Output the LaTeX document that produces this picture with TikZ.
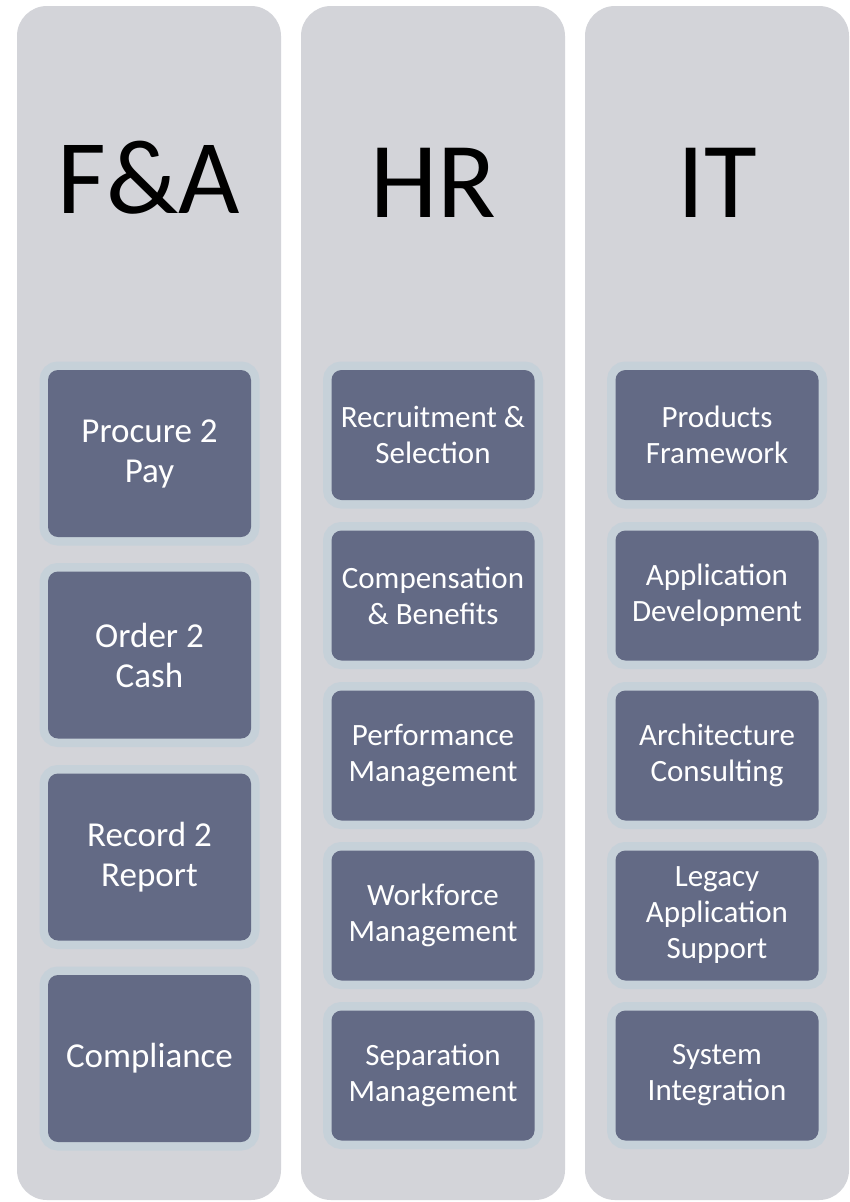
\documentclass[tikz,border=0pt]{standalone}
\usepackage{fontspec}
\setmainfont{Carlito}
\definecolor{colfill}{HTML}{D3D4D9}
\definecolor{boxfill}{HTML}{636A85}
\definecolor{boxrim}{HTML}{C6D1D9}
\tikzset{
  column/.style={fill=colfill, rounded corners=30pt, minimum width=264pt, minimum height=1194pt, inner sep=0pt},
  head/.style={anchor=base, inner sep=0pt, text=black},
  itembox/.style={fill=boxfill, rounded corners=10pt, inner sep=0pt, text=white, align=center,
    minimum width=203pt,
    preaction={draw=boxrim, line width=17pt, rounded corners=10pt}},
  fabox/.style={itembox, minimum height=167pt, font=\fontsize{35}{40}\selectfont},
  smallbox/.style={itembox, minimum height=130pt, font=\fontsize{31}{36}\selectfont},
}
\begin{document}
\begin{tikzpicture}[x=1pt, y=-1pt]
\useasboundingbox (0,0) rectangle (849,1202);
\fill[white] (0,0) rectangle (849,1202);
% columns
\node[column] (colA) at (149,603) {};
\node[column] (colB) at (433,603) {};
\node[column] (colC) at (717,603) {};
% headers
\node[head, font=\fontsize{106}{127}\selectfont] (hA) at (149,213) {F\&A};
\node[head, font=\fontsize{108}{130}\selectfont] (hB) at (433,217) {HR};
\node[head, font=\fontsize{108}{130}\selectfont] (hC) at (717,217) {IT};
% F&A boxes
\node[fabox] (a1) at (149.5,453.5) {Procure 2\\Pay};
\node[fabox] (a2) at (149.5,655) {Order 2\\Cash};
\node[fabox] (a3) at (149.5,857) {Record 2\\Report};
\node[fabox] (a4) at (149.5,1058.5) {Compliance};
% HR boxes
\node[smallbox] (b1) at (433,435) {Recruitment \&\\Selection};
\node[smallbox] (b2) at (433,595.5) {Compensation\\\& Benefits};
\node[smallbox] (b3) at (433,755.5) {Performance\\Management};
\node[smallbox] (b4) at (433,915.5) {Workforce\\Management};
\node[smallbox] (b5) at (433,1075.5) {Separation\\Management};
% IT boxes
\node[smallbox] (c1) at (717,435) {Products\\Framework};
\node[smallbox] (c2) at (717,595.5) {Application\\Development};
\node[smallbox] (c3) at (717,755.5) {Architecture\\Consulting};
\node[smallbox] (c4) at (717,915.5) {Legacy\\Application\\Support};
\node[smallbox] (c5) at (717,1075.5) {System\\Integration};
\end{tikzpicture}
\end{document}
